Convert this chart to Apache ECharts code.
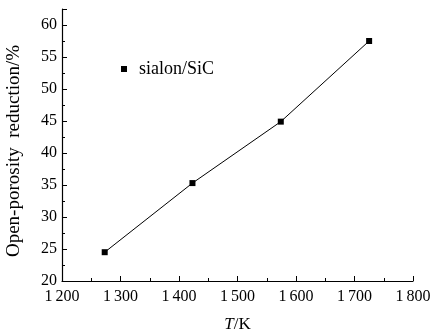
<!DOCTYPE html>
<html>
<head>
<meta charset="utf-8">
<script src="https://cdn.jsdelivr.net/npm/echarts@6/dist/echarts.min.js"></script>
<style>
  html, body { margin: 0; padding: 0; background: #fff; }
  #chart { width: 431px; height: 331px; }
</style>
</head>
<body>
<div id="chart"></div>
<script>
const temps = [1273, 1423, 1574, 1725];
const reduction = [24.5, 35.3, 44.9, 57.5];
const seriesName = 'sialon/SiC';

const font = 'Liberation Serif';
const chart = echarts.init(document.getElementById('chart'));

chart.setOption({
    animation: false,
    grid: { left: 62, right: 18, top: 9, bottom: 50, outerBoundsMode: 'none' },
    legend: {
        data: [seriesName],
        left: 116, top: 55,
        icon: 'rect', itemWidth: 6, itemHeight: 6, itemGap: 8,
        textStyle: { fontFamily: font, fontSize: 18, color: '#000', padding: [0, 0, 0, 7] }
    },
    xAxis: {
        type: 'value', min: 1200, max: 1800, interval: 100,
        name: '{i|T}/K', nameLocation: 'middle', nameGap: 35,
        nameTextStyle: {
            fontFamily: font, fontSize: 17, color: '#000',
            rich: { i: { fontFamily: font, fontSize: 17, fontStyle: 'italic', color: '#000' } }
        },
        axisLine: { lineStyle: { color: '#000', width: 1.2 } },
        axisTick: { inside: true, length: 5, lineStyle: { color: '#000' } },
        minorTick: { show: true, splitNumber: 2, length: 3, lineStyle: { color: '#000' } },
        splitLine: { show: false },
        axisLabel: {
            fontFamily: font, fontSize: 16, color: '#000', margin: 8,
            formatter: v => Math.floor(v / 1000) + '\u2009' + String(v % 1000).padStart(3, '0')
        }
    },
    yAxis: {
        type: 'value', min: 20, max: 62.5, interval: 5,
        name: 'Open-porosity  reduction/%', nameLocation: 'middle', nameGap: 38, nameRotate: 90,
        nameTextStyle: { fontFamily: font, fontSize: 19, color: '#000', padding: [0, 12, 0, 0] },
        axisLine: { show: true, lineStyle: { color: '#000', width: 1.2 } },
        axisTick: { inside: true, length: 5, lineStyle: { color: '#000' } },
        minorTick: { show: true, splitNumber: 2, length: 3, lineStyle: { color: '#000' } },
        splitLine: { show: false },
        axisLabel: {
            fontFamily: font, fontSize: 16, color: '#000', margin: 5, showMaxLabel: false
        }
    },
    series: [{
        name: seriesName,
        type: 'line',
        data: temps.map((t, i) => [t, reduction[i]]),
        symbol: 'rect', symbolSize: 6,
        itemStyle: { color: '#000' },
        lineStyle: { color: '#000', width: 1 }
    }]
});
</script>
</body>
</html>
